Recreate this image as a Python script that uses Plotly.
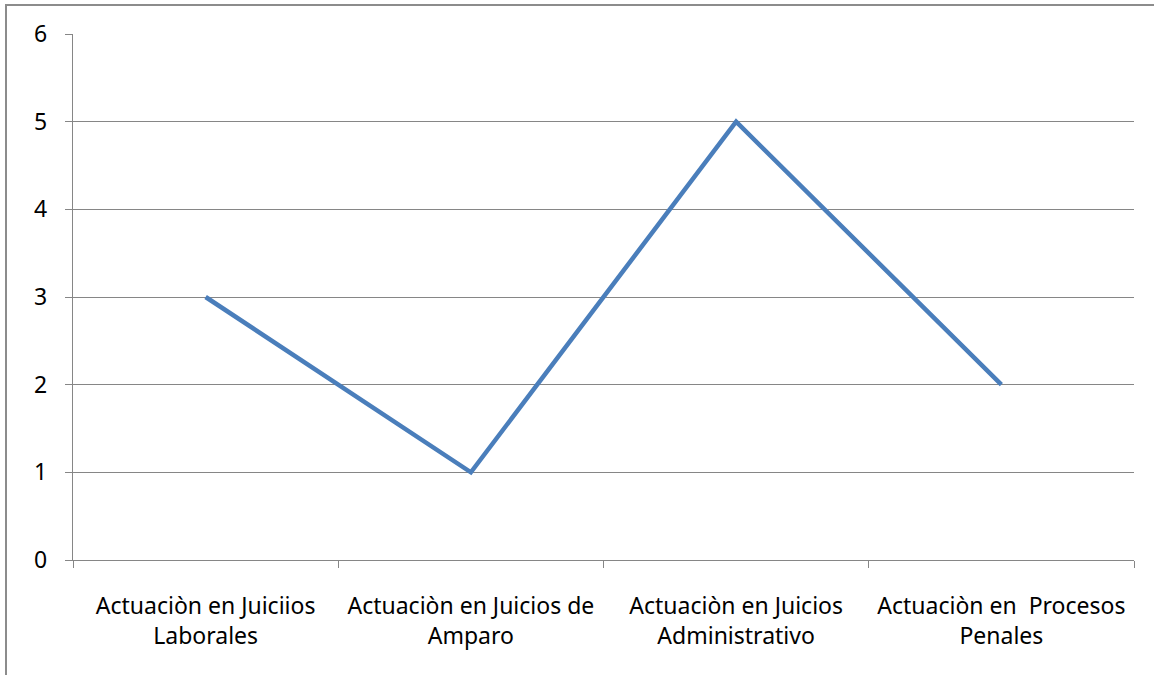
import plotly.graph_objects as go

categories = ["Actuaciòn en Juiciios<br>Laborales",
              "Actuaciòn en Juicios de<br>Amparo",
              "Actuaciòn en Juicios<br>Administrativo",
              "Actuaciòn en  Procesos<br>Penales"]
values = [3, 1, 5, 2]
y_ticks = [0, 1, 2, 3, 4, 5, 6]

W, H = 1154, 675
L, R, T, B = 73, 20, 34, 115
pw = W - L - R
ph = H - T - B

fig = go.Figure()
fig.add_trace(go.Scatter(x=categories, y=values, mode="lines",
                         line=dict(color="#4A7EBB", width=4.5), showlegend=False))

grid = "#868686"
fs = 23
fig.update_layout(
    width=W, height=H,
    margin=dict(l=L, r=R, t=T, b=B),
    paper_bgcolor="white", plot_bgcolor="white",
    font=dict(family="Noto Sans, Open Sans, sans-serif", size=fs, color="black"),
    xaxis=dict(type="category", range=[-0.5, 3.5], tickson="boundaries",
               ticks="outside", ticklen=7, tickcolor=grid, tickwidth=1.3,
               showline=True, linecolor=grid, linewidth=1.3, showgrid=False,
               tickfont=dict(size=fs), ticklabelstandoff=25),
    yaxis=dict(range=[0, 6], tickvals=y_ticks, ticks="outside", ticklen=7,
               tickcolor=grid, tickwidth=1.3, showline=True, linecolor=grid,
               linewidth=1.3, showgrid=True, gridcolor=grid, gridwidth=1.3,
               zeroline=False, tickfont=dict(size=fs), ticklabelstandoff=13),
)

# outer chart border
x0 = (6 - L) / pw
x1 = (W + 5 - L) / pw
y1 = (H - B - 5) / ph
y0 = -(B + 5) / ph
fig.add_shape(type="rect", xref="paper", yref="paper", x0=x0, x1=x1, y0=y0, y1=y1,
              line=dict(color="#8c8c8c", width=2), layer="below")

fig.write_html("out.html", config={"displayModeBar": False},
               post_script="document.body.style.margin='0';document.body.style.overflow='hidden';")
